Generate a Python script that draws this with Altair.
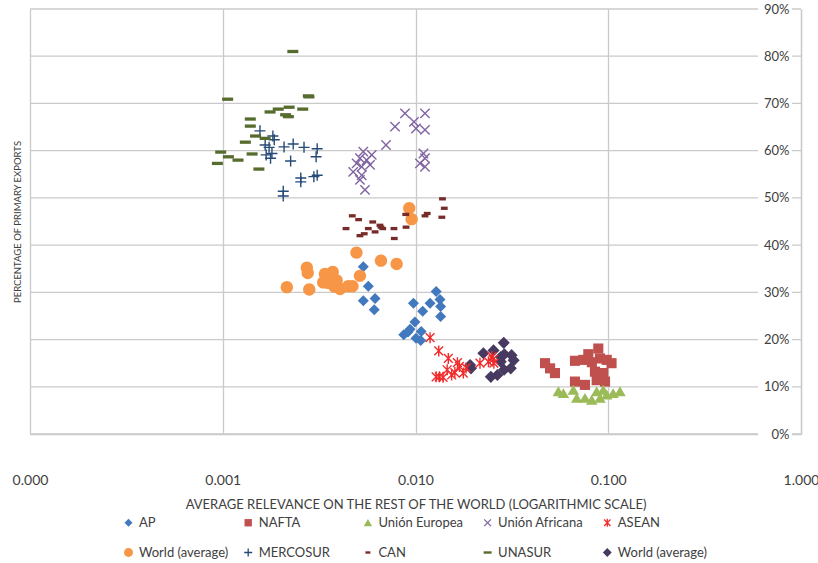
import altair as alt
import pandas as pd

# ---- series values: (average relevance, % primary exports) ----
ap_x = [0.00536, 0.00569, 0.00617, 0.00536, 0.00611, 0.0128, 0.0134, 0.0119, 0.00976, 0.0109,
        0.0135, 0.0135, 0.00993, 0.00937, 0.0107, 0.00869, 0.01006, 0.01064, 0.00914]
ap_y = [35.4, 31.3, 28.7, 28.2, 26.3, 30.2, 28.5, 27.7, 27.7, 26.0,
        27.0, 24.9, 23.7, 22.2, 21.7, 21.0, 20.3, 19.8, 21.6]

nafta_x = [0.0470, 0.0499, 0.0529, 0.0672, 0.0742, 0.0788, 0.0888, 0.0906, 0.0982, 0.104,
           0.0853, 0.0942, 0.0871, 0.0962, 0.0672, 0.0757, 0.0822]
nafta_y = [15.0, 13.9, 12.9, 15.5, 15.7, 16.9, 18.1, 16.0, 15.7, 15.0,
           13.2, 12.9, 11.4, 11.1, 11.1, 10.4, 15.2]

ue_x = [0.0551, 0.0585, 0.0659, 0.0686, 0.0757, 0.0821, 0.0871, 0.0906, 0.0982, 0.106, 0.115, 0.0942]
ue_y = [9.0, 8.6, 9.3, 7.6, 7.6, 7.2, 9.0, 7.6, 8.3, 8.6, 9.0, 9.3]

ua_x = [0.00882, 0.0112, 0.00783, 0.00982, 0.01006, 0.0112, 0.00703, 0.00536, 0.00593, 0.00515, 0.00558,
        0.00495, 0.00581, 0.00526, 0.00475, 0.00526, 0.00515, 0.00547, 0.0110, 0.0112, 0.01055, 0.0112]
ua_y = [67.9, 67.9, 65.1, 66.1, 64.7, 64.4, 61.2, 59.8, 59.1, 58.4, 58.0,
        57.3, 57.0, 56.6, 55.5, 54.8, 53.8, 51.7, 59.4, 58.4, 57.3, 56.6]

asean_x = [0.0119, 0.0132, 0.0148, 0.0165, 0.0169, 0.0133, 0.0128, 0.0139, 0.0154, 0.0160,
           0.0177, 0.0183, 0.0216, 0.0239, 0.0249, 0.0255, 0.0253, 0.0146]
asean_y = [20.4, 17.6, 16.0, 15.1, 14.3, 12.1, 12.1, 12.0, 12.5, 13.0,
           12.9, 14.0, 15.0, 15.3, 16.4, 15.0, 15.8, 13.6]

world1_x = [0.00928, 0.00955, 0.00494, 0.00662, 0.00798, 0.00273, 0.00276, 0.00339, 0.00372, 0.00515,
            0.00332, 0.00364, 0.00390, 0.00380, 0.00406, 0.00448, 0.00471, 0.00215, 0.00281, 0.00352]
world1_y = [47.8, 45.5, 38.4, 36.7, 36.0, 35.2, 34.1, 33.9, 34.3, 33.5,
            32.1, 32.7, 32.5, 31.2, 30.7, 31.3, 31.3, 31.1, 30.6, 32.0]

mercosur_x = [0.00156, 0.00182, 0.00185, 0.00166, 0.00174, 0.00208, 0.00232, 0.00264, 0.00309, 0.00168,
              0.00180, 0.00177, 0.00225, 0.00305, 0.00254, 0.00254, 0.00297, 0.00309, 0.00206, 0.00206]
mercosur_y = [64.2, 63.1, 62.3, 61.2, 60.7, 60.8, 61.4, 60.7, 60.4, 59.1,
              59.4, 58.4, 57.8, 58.7, 54.2, 53.4, 54.5, 54.8, 51.4, 50.4]

can_x = [0.0138, 0.0141, 0.0137, 0.0115, 0.0112, 0.00890, 0.00893, 0.00773, 0.00776, 0.00470,
         0.00507, 0.00436, 0.00600, 0.00569, 0.00654, 0.00662, 0.00676, 0.00617, 0.00542, 0.00515]
can_y = [49.8, 47.8, 45.9, 46.7, 46.2, 46.5, 43.8, 43.5, 41.4, 46.2,
         45.4, 43.5, 44.9, 43.5, 44.2, 43.8, 43.5, 42.8, 42.4, 42.0]

unasur_x = [0.00231, 0.00106, 0.00278, 0.00280, 0.00176, 0.00194, 0.00221, 0.00260, 0.00212, 0.00219,
            0.00139, 0.00139, 0.00148, 0.00166, 0.00131, 0.000976, 0.00107, 0.00120, 0.000938, 0.00142, 0.00154]
unasur_y = [81.0, 70.9, 71.6, 71.4, 68.2, 68.8, 69.2, 68.8, 67.6, 67.2,
            66.7, 65.2, 63.1, 62.6, 61.8, 59.7, 58.7, 58.0, 57.3, 59.3, 56.1]

world2_x = [0.0287, 0.0254, 0.0225, 0.0315, 0.0192, 0.0194, 0.0277, 0.0323, 0.0312, 0.0288,
            0.0266, 0.0246, 0.0289, 0.0277]
world2_y = [19.3, 17.7, 17.1, 16.7, 14.6, 13.9, 15.3, 15.6, 13.9, 13.6,
            12.5, 12.1, 16.9, 16.3]

# legend order (two rows of five); the second "World (average)" carries a suffix
# that is stripped from its label
series = ["AP", "NAFTA", "Unión Europea", "Unión Africana", "ASEAN",
          "World (average)", "MERCOSUR", "CAN", "UNASUR", "World (average) #2"]
colors = ["#4178BE", "#C0504D", "#9BBB59", "#8064A2", "#F22A2A",
          "#F79646", "#264A78", "#772C2A", "#566B2E", "#47395F"]
# outline colour: only the line-drawn markers (x, *, +) use a stroke
strokes = ["transparent", "transparent", "transparent", "#8064A2", "#F22A2A",
           "transparent", "#264A78", "transparent", "transparent", "transparent"]
shapes = [
    "M0,-1L1,0L0,1L-1,0Z",                                   # diamond
    "M-0.92,-0.92H0.92V0.92H-0.92Z",                         # square
    "M0,-0.95L1.05,0.85H-1.05Z",                             # triangle
    "M-0.85,-0.85L0.85,0.85M-0.85,0.85L0.85,-0.85",          # x
    "M-0.8,-0.8L0.8,0.8M-0.8,0.8L0.8,-0.8M0,-1V1",           # star
    "M-1.12,0A1.12,1.12,0,1,0,1.12,0A1.12,1.12,0,1,0,-1.12,0Z",  # circle
    "M-1,0H1M0,-1V1",                                        # plus
    "M-0.62,-0.3H0.62V0.3H-0.62Z",                           # short dash
    "M-1,-0.3H1V0.3H-1Z",                                    # long dash
    "M0,-1.1L1.1,0L0,1.1L-1.1,0Z",                           # large diamond
]

# plotting order (later series are drawn on top)
draw_order = [
    ("AP", ap_x, ap_y), ("NAFTA", nafta_x, nafta_y), ("Unión Europea", ue_x, ue_y),
    ("Unión Africana", ua_x, ua_y), ("World (average) #2", world2_x, world2_y),
    ("World (average)", world1_x, world1_y), ("MERCOSUR", mercosur_x, mercosur_y),
    ("CAN", can_x, can_y), ("UNASUR", unasur_x, unasur_y), ("ASEAN", asean_x, asean_y),
]

x_ticks = [0.0001, 0.001, 0.01, 0.1, 1.0]
y_ticks = [0, 10, 20, 30, 40, 50, 60, 70, 80, 90]

rows = []
for name, xs, ys in draw_order:
    for xv, yv in zip(xs, ys):
        rows.append({"series": name, "relevance": xv, "pct": yv})
points_df = pd.DataFrame(rows)
ticks_df = pd.DataFrame({"pct": y_ticks})

W, H = 771, 425
FONT = "Lato"
TEXT = "#404040"
GRID = "#CACACA"

x_scale = alt.Scale(type="log", domain=[x_ticks[0], x_ticks[-1]], nice=False)
y_scale = alt.Scale(domain=[y_ticks[0], y_ticks[-1]], nice=False)

# percentage axis on the right edge, labels set just inside the frame,
# drawn above the marks; the title sits on the left side of the plot
y_axis = alt.Axis(
    orient="right",
    values=y_ticks,
    labelExpr="datum.value + '%'",
    grid=False,
    ticks=False,
    domainColor=GRID,
    domainWidth=1.3,
    zindex=1,
    labelAlign="right",
    labelBaseline="middle",
    labelPadding=-12,
    labelFont=FONT,
    labelFontSize=13,
    labelColor=TEXT,
    title="PERCENTAGE OF PRIMARY EXPORTS",
    titleFont=FONT,
    titleFontSize=9.5,
    titleFontWeight="normal",
    titleColor=TEXT,
    titleAngle=270,
    titleAlign="center",
    titleBaseline="middle",
    titleX=-(W + 13),
    titleY=H / 2,
)

# horizontal gridlines
grid = alt.Chart(ticks_df).mark_rule(color=GRID, strokeWidth=1.3).encode(
    y=alt.Y("pct:Q", scale=y_scale, axis=y_axis)
)

# white band behind the percentage labels
label_mask = alt.Chart(ticks_df).mark_rule(color="white", strokeWidth=13).encode(
    y=alt.Y("pct:Q", scale=y_scale, axis=y_axis),
    x=alt.value(W - 43),
    x2=alt.value(W - 9),
)

legend = alt.Legend(
    title=None,
    orient="none",
    legendX=92,
    legendY=507,
    direction="horizontal",
    columns=5,
    gridAlign="all",
    columnPadding=11.7,
    rowPadding=15,
    symbolSize=64,
    symbolStrokeWidth=1.3,
    labelFont=FONT,
    labelFontSize=13,
    labelColor=TEXT,
    labelOffset=4,
    labelLimit=200,
    padding=0,
    labelExpr="split(datum.label, ' #')[0]",
)

points = alt.Chart(points_df).mark_point(opacity=1, size=121, strokeWidth=1.4, filled=False).encode(
    x=alt.X(
        "relevance:Q",
        scale=x_scale,
        axis=alt.Axis(
            values=x_ticks,
            format=".3f",
            title="AVERAGE RELEVANCE ON THE REST OF THE WORLD (LOGARITHMIC SCALE)",
            grid=True,
            gridColor=GRID,
            gridWidth=1.3,
            domainColor=GRID,
            domainWidth=1.3,
            ticks=False,
            labelFlush=False,
            labelPadding=39,
            labelFont=FONT,
            labelFontSize=14,
            labelColor=TEXT,
            titleFont=FONT,
            titleFontSize=13,
            titleFontWeight="normal",
            titleColor=TEXT,
            titlePadding=11,
        ),
    ),
    y=alt.Y("pct:Q", scale=y_scale, axis=y_axis),
    fill=alt.Fill("series:N", scale=alt.Scale(domain=series, range=colors), legend=legend),
    stroke=alt.Stroke("series:N", scale=alt.Scale(domain=series, range=strokes), legend=legend),
    shape=alt.Shape("series:N", scale=alt.Scale(domain=series, range=shapes), legend=legend),
)

chart = (
    alt.layer(grid, label_mask, points)
    .properties(
        width=W,
        height=H,
        autosize=alt.AutoSizeParams(type="none"),
        padding={"left": 30, "top": 9, "right": 17, "bottom": 129},
        background="white",
    )
    .configure_view(stroke=None)
)

chart.save("out.html", embed_options={"renderer": "svg", "actions": False})
